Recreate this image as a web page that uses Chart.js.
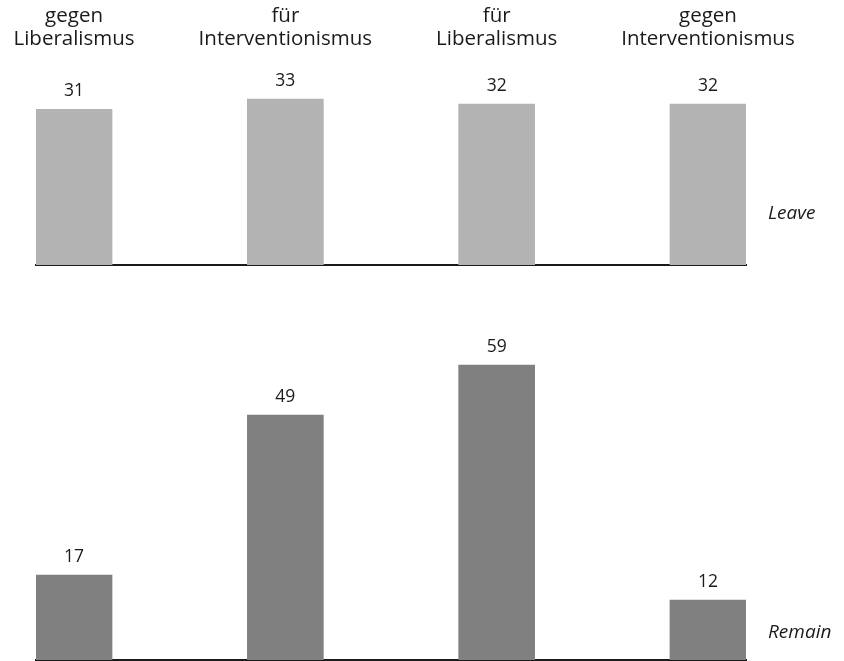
<!DOCTYPE html>
<html>
<head>
<meta charset="utf-8">
<script src="https://cdn.jsdelivr.net/npm/chart.js@4.4.0/dist/chart.umd.min.js"></script>
<style>
  html, body { margin: 0; padding: 0; background: #fff; }
  #wrap { position: relative; width: 844px; height: 661px; }
  canvas { position: absolute; left: 0; }
  #leaveChart { top: 0; }
  #remainChart { top: 270px; }
</style>
</head>
<body>
<div id="wrap">
  <canvas id="leaveChart" width="844" height="270"></canvas>
  <canvas id="remainChart" width="844" height="391"></canvas>
</div>
<script>
// categories (two lines each) and values
const categories = [
  ["gegen", "Liberalismus"],
  ["für", "Interventionismus"],
  ["für", "Liberalismus"],
  ["gegen", "Interventionismus"]
];
const leaveValues = [31, 33, 32, 32];
const remainValues = [17, 49, 59, 12];
const seriesNames = ["Leave", "Remain"];

const FONT = "'Open Sans', 'Noto Sans', sans-serif";
const TEXT = "#1a1a1a";

// value labels above every bar
const valueLabels = {
  id: 'valueLabels',
  afterDatasetsDraw(chart) {
    const ctx = chart.ctx;
    ctx.save();
    ctx.font = "17.5px " + FONT;
    ctx.fillStyle = TEXT;
    ctx.textAlign = 'center';
    ctx.textBaseline = 'alphabetic';
    const meta = chart.getDatasetMeta(0);
    meta.data.forEach((bar, i) => {
      ctx.fillText(chart.data.datasets[0].data[i].y, bar.x, bar.y - 13);
    });
    ctx.restore();
  }
};

// italic series name on the right
const seriesLabel = {
  id: 'seriesLabel',
  afterDraw(chart, args, opts) {
    const ctx = chart.ctx;
    const a = chart.chartArea;
    ctx.save();
    ctx.font = "italic 19px " + FONT;
    ctx.fillStyle = TEXT;
    ctx.textAlign = 'left';
    ctx.fillText(opts.text, a.right + 22, a.bottom - opts.dy);
    ctx.restore();
  }
};

function makeChart(id, values, color, yMax, name, dy, withTop, axisH) {
  const scales = {
    x: {
      type: 'linear',
      offset: false,
      min: -0.18,
      max: 3.18,
      grid: { display: false, offset: false },
      ticks: { display: false },
      border: { display: true, color: TEXT, width: 2 },
      afterFit: axis => { axis.height = axisH; }
    },
    y: { display: false, min: 0, max: yMax }
  };
  if (withTop) {
    scales.xTop = {
      type: 'linear',
      axis: 'x',
      position: 'top',
      offset: false,
      min: -0.18,
      max: 3.18,
      grid: { display: false, offset: false },
      border: { display: false },
      afterBuildTicks: axis => { axis.ticks = categories.map((c, i) => ({ value: i })); },
      afterFit: axis => { axis.height = 64; },
      ticks: {
        padding: 6,
        color: TEXT,
        font: { family: FONT, size: 20.5, lineHeight: 1.09 },
        maxRotation: 0,
        autoSkip: false,
        callback: v => categories[v]
      }
    };
  }
  return new Chart(document.getElementById(id), {
    type: 'bar',
    data: {
      datasets: [{
        label: name,
        data: values.map((v, i) => ({ x: i, y: v })),
        backgroundColor: color,
        borderWidth: 0,
        barThickness: 76
      }]
    },
    options: {
      responsive: false,
      animation: false,
      layout: { padding: { left: 36, right: 98, top: withTop ? 0 : 40, bottom: 0 } },
      scales,
      plugins: {
        legend: { display: false },
        tooltip: { enabled: false },
        seriesLabel: { text: name, dy: dy }
      }
    },
    plugins: [valueLabels, seriesLabel]
  });
}

makeChart('leaveChart', leaveValues, '#b3b3b3', 40, seriesNames[0], 46, true, 5);
makeChart('remainChart', remainValues, '#808080', 70, seriesNames[1], 22, false, 1);
</script>
</body>
</html>
